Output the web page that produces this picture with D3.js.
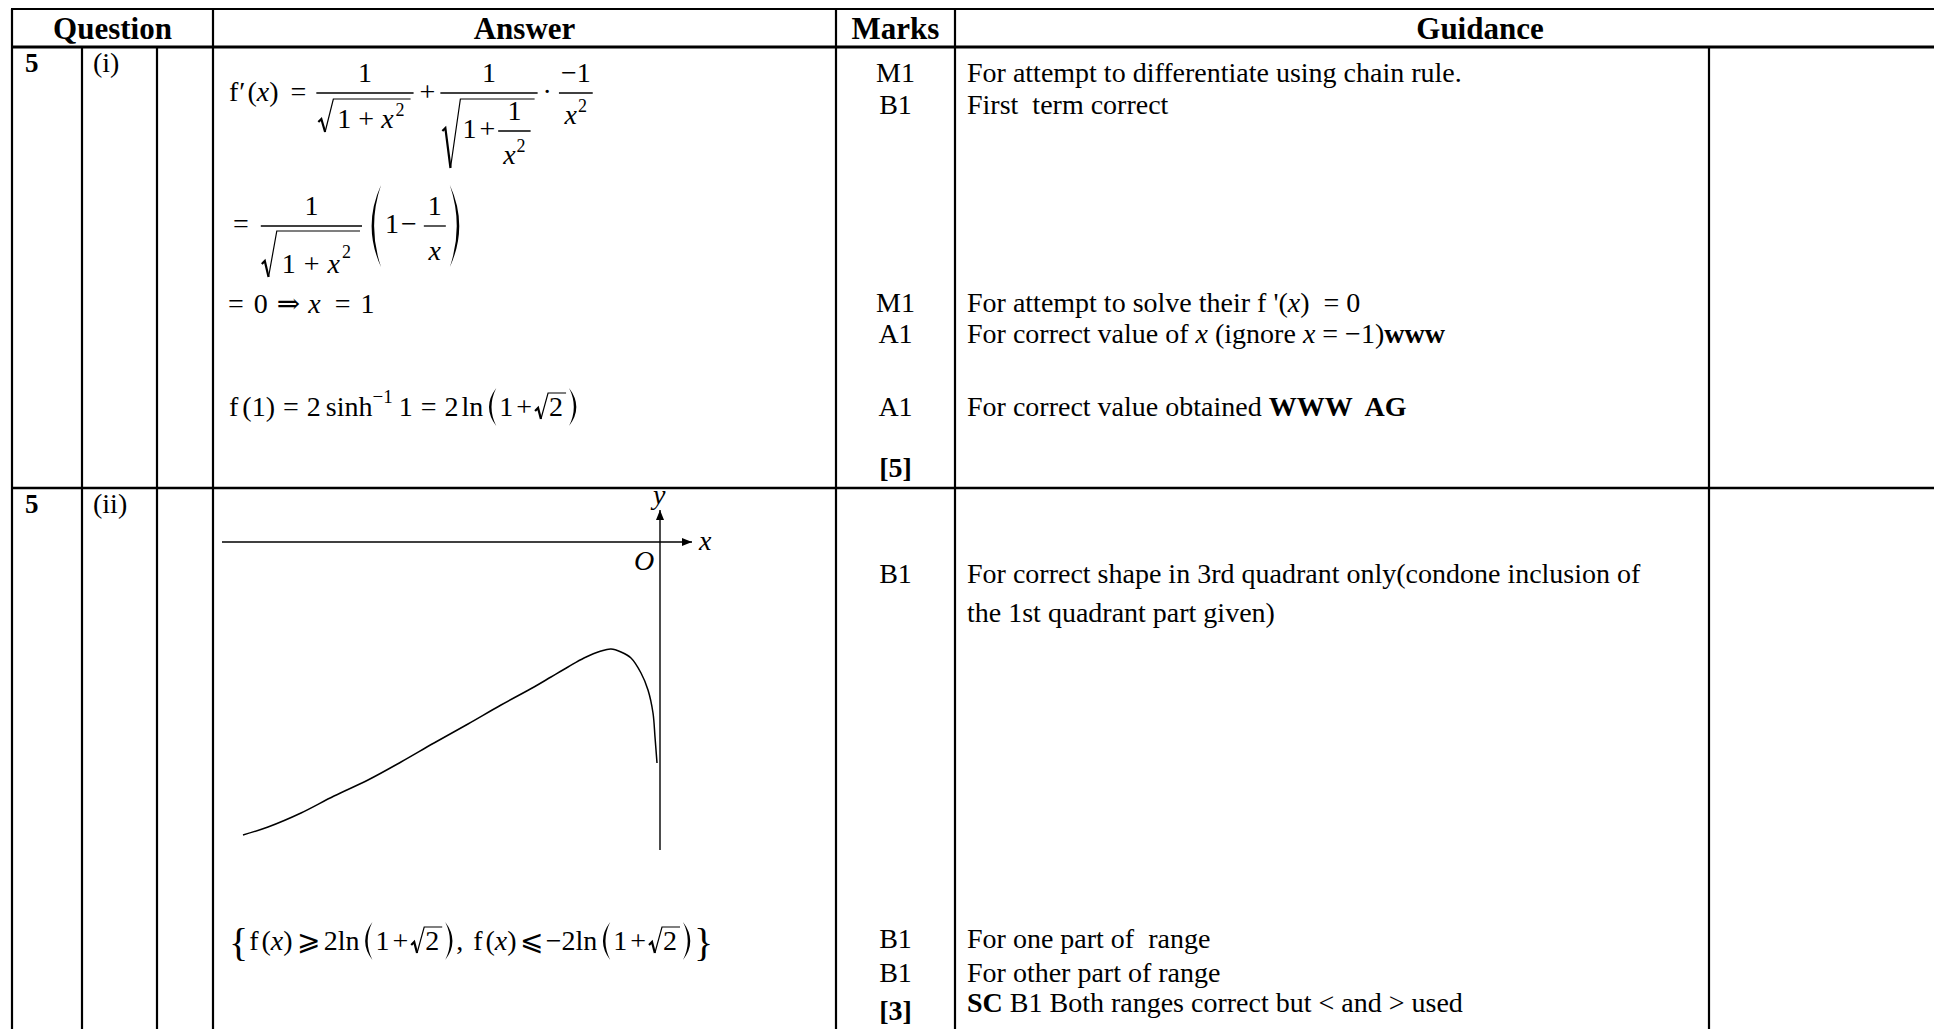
<!DOCTYPE html>
<html>
<head>
<meta charset="utf-8">
<script src="https://cdnjs.cloudflare.com/ajax/libs/d3/7.8.5/d3.min.js"></script>
<style>
body { margin: 0; background: #fff; }
svg { display: block; }
text { font-family: "Liberation Serif", "Times New Roman", serif; fill: #000; white-space: pre; }
</style>
</head>
<body>
<script>
var W = 1934, H = 1029, FS = 28;

// table content
var headers = ["Question", "Answer", "Marks", "Guidance"];
var questionNo = ["5", "5"];
var partLabel = ["(i)", "(ii)"];
var marksI = ["M1", "B1", "M1", "A1", "A1", "**[5]**"];
var marksISlot = [0, 1, 7.19, 8.16, 10.44, 12.34];
var guidanceI = ["For attempt to differentiate using chain rule.", "First  term correct",
  "For attempt to solve their f '(*x*)  = 0", "For correct value of *x* (ignore *x* = \u22121)**www**",
  "For correct value obtained **WWW  AG**"];
var guidanceISlot = [0, 1, 7.19, 8.16, 10.44];
var marksII = ["B1", "B1", "B1", "**[3]**"];
var marksIISlot = [0, 11.77, 12.87, 14.1];
var guidanceII = ["For correct shape in 3rd quadrant only(condone inclusion of", "the 1st quadrant part given)",
  "For one part of  range", "For other part of range", "**SC** B1 Both ranges correct but < and > used"];
var guidanceIISlot = [0, 1.25, 11.77, 12.87, 13.84];

// sketch of the curve in the 3rd quadrant
var axisX = [-4.38, 0.32];
var axisY = [-3.08, 0.32];
var curveX = [-4.17, -3.92, -3.59, -3.26, -2.92, -2.59, -2.26, -1.92, -1.59, -1.26, -1.09, -0.92, -0.76, -0.59, -0.49, -0.39, -0.29, -0.19, -0.12, -0.07, -0.05, -0.03];
var curveY = [-2.93, -2.85, -2.71, -2.54, -2.38, -2.20, -2.01, -1.82, -1.63, -1.45, -1.35, -1.25, -1.16, -1.09, -1.07, -1.10, -1.16, -1.31, -1.48, -1.71, -1.95, -2.21];

var svg = d3.select("body").append("svg").attr("width", W).attr("height", H);

// grid
var colX = [12, 82, 157, 213, 836, 955, 1709];
var colTop = [9, 47, 47, 9, 9, 9, 47];
var yTop = 9, yHead = 47, yRow2 = 488;
svg.selectAll("line.col").data(colX).enter().append("line").attr("class", "col")
  .attr("x1", function(d) { return d; }).attr("x2", function(d) { return d; })
  .attr("y1", function(d, i) { return colTop[i]; }).attr("y2", H)
  .attr("stroke", "#000").attr("stroke-width", 2.2);
[[yTop, 2.2], [yHead, 3], [yRow2, 2.4]].forEach(function(h) {
  svg.append("line").attr("x1", 11).attr("x2", W).attr("y1", h[0]).attr("y2", h[0])
    .attr("stroke", "#000").attr("stroke-width", h[1]);
});

var tableRight = 2005;
var headX = [(colX[0] + colX[3]) / 2, (colX[3] + colX[4]) / 2, (colX[4] + colX[5]) / 2, (colX[5] + tableRight) / 2];
svg.selectAll("text.head").data(headers).enter().append("text").attr("class", "head")
  .attr("x", function(d, i) { return headX[i]; }).attr("y", 39)
  .attr("text-anchor", "middle").attr("font-weight", "bold").attr("font-size", 31)
  .text(function(d) { return d; });

var rowTop = [yHead, yRow2];
svg.selectAll("text.qno").data(questionNo).enter().append("text").attr("class", "qno")
  .attr("x", 25).attr("y", function(d, i) { return rowTop[i] + 25; })
  .attr("font-weight", "bold").attr("font-size", 27).text(function(d) { return d; });
svg.selectAll("text.part").data(partLabel).enter().append("text").attr("class", "part")
  .attr("x", 93).attr("y", function(d, i) { return rowTop[i] + 25; })
  .attr("font-size", 28).text(function(d) { return d; });

// rich text: *italic*, **bold**
function rich(sel, s) {
  s.split(/(\*\*[^*]+\*\*|\*[^*]+\*)/).forEach(function(part) {
    if (!part) return;
    var ts = sel.append("tspan");
    if (part.indexOf("**") === 0) ts.attr("font-weight", "bold").text(part.slice(2, -2));
    else if (part.charAt(0) === "*") ts.attr("font-style", "italic").text(part.slice(1, -1));
    else ts.text(part);
  });
}

var slotI = d3.scaleLinear().domain([0, 1]).range([82, 114]);
var slotII = d3.scaleLinear().domain([0, 1]).range([583, 614]);
var markX = (colX[4] + colX[5]) / 2, guideX = colX[5] + 12;

function column(items, slots, scale, x, anchor) {
  items.forEach(function(s, i) {
    var t = svg.append("text").attr("x", x).attr("y", scale(slots[i]))
      .attr("font-size", FS).attr("text-anchor", anchor);
    rich(t, s);
  });
}
column(marksI, marksISlot, slotI, markX, "middle");
column(guidanceI, guidanceISlot, slotI, guideX, "start");
column(marksII, marksIISlot, slotII, markX, "middle");
column(guidanceII, guidanceIISlot, slotII, guideX, "start");

// tiny layout engine for the formulas (baseline at y = 0)
function txt(s, o) { o = o || {}; return function(p) {
  var g = p.append("g");
  var t = g.append("text").attr("font-size", o.size || FS).text(s);
  if (o.it) t.attr("font-style", "italic");
  if (o.fam) t.style("font-family", o.fam);
  return { g: g, w: t.node().getComputedTextLength() };
}; }
function sp(w) { return function(p) { return { g: p.append("g"), w: w }; }; }
function row() { var items = Array.prototype.slice.call(arguments); return function(p) {
  var g = p.append("g"), x = 0;
  items.forEach(function(f) { var b = f(g); b.g.attr("transform", "translate(" + x + ",0)"); x += b.w; });
  return { g: g, w: x };
}; }
function shift(item, dy) { return function(p) {
  var g = p.append("g"), b = item(g);
  b.g.attr("transform", "translate(0," + dy + ")");
  return { g: g, w: b.w };
}; }
function sup2(dy) { return shift(txt("2", { size: 18 }), dy); }
function frac(num, den, o) { return function(p) {
  var g = p.append("g"), n = num(g), d = den(g);
  var pad = o.pad == null ? 2 : o.pad;
  var w = Math.max(n.w, d.w) + 2 * pad;
  n.g.attr("transform", "translate(" + ((w - n.w) / 2) + "," + (-o.axis - o.up) + ")");
  d.g.attr("transform", "translate(" + ((w - d.w) / 2) + "," + (-o.axis + o.down) + ")");
  g.append("line").attr("x1", 0).attr("x2", w).attr("y1", -o.axis).attr("y2", -o.axis)
    .attr("stroke", "#000").attr("stroke-width", 1.3);
  return { g: g, w: w };
}; }
function root(item, o) { return function(p) {
  var g = p.append("g"), b = item(g), lead = o.lead || 14;
  var gl = o.gl == null ? 1 : o.gl, gr = o.gr == null ? 3 : o.gr;
  b.g.attr("transform", "translate(" + (lead + gl) + ",0)");
  g.append("path").attr("d", "M0," + (o.mid + 3) + "L3," + o.mid + "L" + (lead * 0.45) + "," + o.bot)
    .attr("fill", "none").attr("stroke", "#000").attr("stroke-width", 2.2);
  g.append("path").attr("d", "M" + (lead * 0.45) + "," + o.bot + "L" + lead + "," + o.top + "L" + (lead + gl + b.w + gr) + "," + o.top)
    .attr("fill", "none").attr("stroke", "#000").attr("stroke-width", 1.2);
  return { g: g, w: lead + gl + b.w + gr + 1 };
}; }
function paren(left, o) { return function(p) {
  var g = p.append("g"), w = o.w || 12, t = o.cy - o.h / 2, b = o.cy + o.h / 2, d;
  if (left) d = "M" + w + "," + t + "Q" + (-w * 0.45) + "," + o.cy + " " + w + "," + b + "Q" + (-w * 0.45 + 5) + "," + o.cy + " " + w + "," + t + "Z";
  else d = "M2," + t + "Q" + (w * 1.45 + 2) + "," + o.cy + " 2," + b + "Q" + (w * 1.45 - 3) + "," + o.cy + " 2," + t + "Z";
  g.append("path").attr("d", d).attr("fill", "#000");
  return { g: g, w: w + 3 };
}; }
function place(builder, x, y) {
  var b = builder(svg);
  b.g.attr("transform", "translate(" + x + "," + y + ")");
}
var IT = { it: true };
function x2(gap) { return row(txt("x", IT), sp(gap || 1), sup2(-12)); }

// f'(x) = ...
place(row(
  txt("f"), sp(1), txt("\u2032"), sp(2), txt("("), txt("x", IT), txt(")"), sp(12), txt("="), sp(10),
  frac(txt("1"), root(row(txt("1"), sp(7), txt("+"), sp(7), x2(2)), { top: -29, mid: -9, bot: 4, lead: 15, gl: 4, gr: 6 }), { axis: 8, up: 11, down: 35, pad: 2 }),
  sp(6), txt("+"), sp(5),
  frac(txt("1"), root(row(txt("1"), sp(3), txt("+"), sp(3),
      frac(txt("1"), x2(), { axis: 7, up: 11, down: 33, pad: 5 })), { top: -39, mid: -10, bot: 30, lead: 18, gl: 2, gr: 4 }),
    { axis: 8, up: 11, down: 45, pad: 2 }),
  sp(5), txt("\u00b7"), sp(7),
  frac(txt("\u22121"), x2(), { axis: 8, up: 11, down: 31, pad: 2 })
), 229, 101);

// = 1/sqrt(1+x^2) (1 - 1/x)
place(row(
  sp(2), txt("="), sp(12),
  frac(txt("1"), root(row(txt("1"), sp(8), txt("+"), sp(8), txt("x", IT), sp(2), sup2(-15)), { top: -42, mid: -12, bot: 4, lead: 15, gl: 5, gr: 9 }), { axis: 7, up: 11, down: 47, pad: 1 }),
  sp(6), paren(true, { h: 82, cy: -7, w: 13 }), sp(1), txt("1"), sp(2), txt("\u2212"), sp(7),
  frac(txt("1"), txt("x", IT), { axis: 7, up: 11, down: 34, pad: 4 }), sp(2), paren(false, { h: 82, cy: -7, w: 13 })
), 231, 233);

// = 0 => x = 1
place(row(txt("="), sp(10), txt("0"), sp(9), txt("\u21d2", { fam: "DejaVu Serif" }), sp(8), txt("x", IT), sp(14), txt("="), sp(10), txt("1")), 228, 313);

// f(1) = 2 sinh^-1 1 = 2 ln(1+sqrt2)
function lnPart() {
  return row(txt("ln"), sp(3), paren(true, { h: 38, cy: -9, w: 10 }), txt("1"), sp(3), txt("+"), sp(3),
    root(txt("2"), { top: -23, mid: -8, bot: 3, lead: 13 }), paren(false, { h: 38, cy: -9, w: 10 }));
}
place(row(
  txt("f"), sp(4), txt("(1)"), sp(8), txt("="), sp(8), txt("2"), sp(5), txt("sinh"),
  shift(txt("\u22121", { size: 19 }), -13), sp(6), txt("1"), sp(8), txt("="), sp(8), txt("2"), sp(3), lnPart()
), 229, 416);

// range
function brace(s) { return shift(txt(s, { size: 40 }), 6); }
var geq = txt("\u2a7e", { fam: "DejaVu Serif" }), leq = txt("\u2a7d", { fam: "DejaVu Serif" });
place(row(
  brace("{"), sp(1), txt("f"), sp(3), txt("("), txt("x", IT), txt(")"), sp(4), geq, sp(4), txt("2"), lnPart(),
  txt(","), sp(10),
  txt("f"), sp(3), txt("("), txt("x", IT), txt(")"), sp(3), leq, sp(3), txt("\u22122"), lnPart(), brace("}")
), 229, 950);

// sketch
var xs = d3.scaleLinear().domain(axisX).range([222, 692]);
var ys = d3.scaleLinear().domain([axisY[1], axisY[0]]).range([510, 850]);
var defs = svg.append("defs");
defs.append("marker").attr("id", "arr").attr("viewBox", "0 0 10 8").attr("refX", 10).attr("refY", 4)
  .attr("markerWidth", 10).attr("markerHeight", 8).attr("markerUnits", "userSpaceOnUse").attr("orient", "auto")
  .append("path").attr("d", "M0,0L10,4L0,8Z").attr("fill", "#000");
svg.append("line").attr("x1", xs(axisX[0])).attr("x2", xs(axisX[1])).attr("y1", ys(0)).attr("y2", ys(0))
  .attr("stroke", "#000").attr("stroke-width", 1.4).attr("marker-end", "url(#arr)");
svg.append("line").attr("x1", xs(0)).attr("x2", xs(0)).attr("y1", ys(axisY[0])).attr("y2", ys(axisY[1]))
  .attr("stroke", "#000").attr("stroke-width", 1.4).attr("marker-end", "url(#arr)");
svg.append("text").attr("x", xs(axisX[1]) + 7).attr("y", ys(0) + 8).attr("font-size", FS).attr("font-style", "italic").text("x");
svg.append("text").attr("x", xs(0) - 7).attr("y", ys(axisY[1]) - 6).attr("font-size", FS).attr("font-style", "italic").text("y");
svg.append("text").attr("x", xs(0) - 26).attr("y", ys(0) + 28).attr("font-size", FS).attr("font-style", "italic").text("O");

var pts = curveX.map(function(d, i) { return [d, curveY[i]]; });
svg.append("path").datum(pts)
  .attr("d", d3.line().x(function(d) { return xs(d[0]); }).y(function(d) { return ys(d[1]); }).curve(d3.curveCatmullRom.alpha(0.5)))
  .attr("fill", "none").attr("stroke", "#000").attr("stroke-width", 1.5);
</script>
</body>
</html>
